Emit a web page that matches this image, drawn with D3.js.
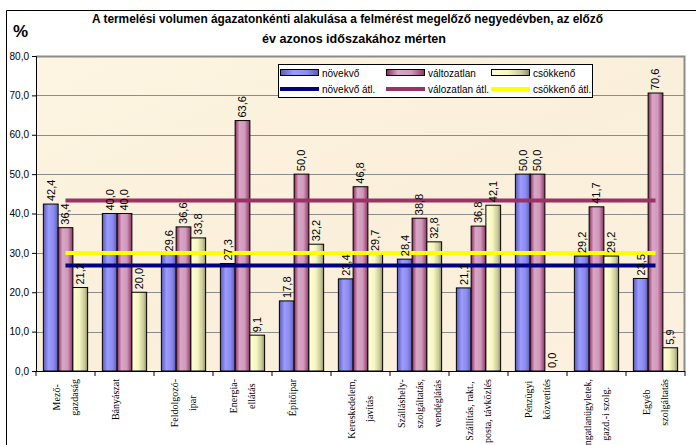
<!DOCTYPE html>
<html>
<head>
<meta charset="utf-8">
<script src="https://cdn.jsdelivr.net/npm/d3@7"></script>
<style>
  body { margin: 0; background: #fff; }
  svg { display: block; }
</style>
</head>
<body>
<svg id="chart"></svg>
<script>
const categories = [
  ["Mező-", "gazdaság"],
  ["Bányászat"],
  ["Feldolgozó-", "ipar"],
  ["Energia-", "ellátás"],
  ["Építőipar"],
  ["Kereskedelem,", "javítás"],
  ["Szálláshely-", "szolgáltatás,", "vendéglátás"],
  ["Szállítás, rakt.,", "posta, távközlés"],
  ["Pénzügyi", "közvetítés"],
  ["Ingatlanügyletek,", "gazd.-i szolg."],
  ["Egyéb", "szolgáltatás"]
];

const novekvo = [42.4, 40.0, 29.6, 27.3, 17.8, 23.4, 28.4, 21.1, 50.0, 29.2, 23.5];
const valtozatlan = [36.4, 40.0, 36.6, 63.6, 50.0, 46.8, 38.8, 36.8, 50.0, 41.7, 70.6];
const csokkeno = [21.2, 20.0, 33.8, 9.1, 32.2, 29.7, 32.8, 42.1, 0.0, 29.2, 5.9];

// average lines
const novekvoAtl = [26.8, 26.8, 26.8, 26.8, 26.8, 26.8, 26.8, 26.8, 26.8, 26.8, 26.8];
const valtozatlanAtl = [43.3, 43.3, 43.3, 43.3, 43.3, 43.3, 43.3, 43.3, 43.3, 43.3, 43.3];
const csokkenoAtl = [30.0, 30.0, 30.0, 30.0, 30.0, 30.0, 30.0, 30.0, 30.0, 30.0, 30.0];

const yTicks = [0, 10, 20, 30, 40, 50, 60, 70, 80];

const width = 696;
const height = 445;
const pLeft = 36, pRight = 685, pTop = 56, pBottom = 371;

const fmt = (v) => v.toFixed(1).replace(".", ",");

const svg = d3.select("#chart").attr("width", width).attr("height", height);

// gradients for the bars
const defs = svg.append("defs");
const addGrad = (id, stops) => {
  const g = defs.append("linearGradient").attr("id", id)
    .attr("x1", "0%").attr("x2", "100%").attr("y1", "0%").attr("y2", "0%");
  stops.forEach(([o, c]) => g.append("stop").attr("offset", o).attr("stop-color", c));
};
addGrad("gBlue", [["0%", "#5a5ab8"], ["35%", "#9c9cff"], ["70%", "#8a8af0"], ["100%", "#5c5cb0"]]);
addGrad("gPink", [["0%", "#8c2a5c"], ["30%", "#d9a6c6"], ["65%", "#cf9abb"], ["100%", "#8e3362"]]);
addGrad("gYellow", [["0%", "#ffffd8"], ["45%", "#f6f6c0"], ["80%", "#c8c89a"], ["100%", "#8e8e66"]]);
const plotBg = defs.append("linearGradient").attr("id", "gBg")
  .attr("x1", "0%").attr("x2", "100%").attr("y1", "0%").attr("y2", "100%");
plotBg.append("stop").attr("offset", "0%").attr("stop-color", "#fdf5e2");
plotBg.append("stop").attr("offset", "50%").attr("stop-color", "#faefda");
plotBg.append("stop").attr("offset", "100%").attr("stop-color", "#fbf1de");

// outer border
svg.append("path")
  .attr("d", `M6.5,${height} V10.5 H${width}`)
  .attr("fill", "none").attr("stroke", "#000").attr("stroke-width", 1);

// title
svg.append("text").text("%")
  .attr("x", 13).attr("y", 37)
  .attr("font-family", "Arial, 'Liberation Sans', sans-serif")
  .attr("font-weight", "bold").attr("font-size", 17);

svg.append("text")
  .text("A termelési volumen ágazatonkénti alakulása a felmérést megelőző negyedévben, az előző")
  .attr("x", 92).attr("y", 23)
  .attr("font-family", "Arial, 'Liberation Sans', sans-serif")
  .attr("font-weight", "bold").attr("font-size", 12)
  .attr("textLength", 511).attr("lengthAdjust", "spacingAndGlyphs");
svg.append("text")
  .text("év azonos időszakához mérten")
  .attr("x", 262).attr("y", 43)
  .attr("font-family", "Arial, 'Liberation Sans', sans-serif")
  .attr("font-weight", "bold").attr("font-size", 12)
  .attr("textLength", 184).attr("lengthAdjust", "spacingAndGlyphs");

// scales
const idx = d3.range(categories.length);
const x = d3.scaleBand().domain(idx).range([pLeft, pRight]).paddingInner(0).paddingOuter(0);
const y = d3.scaleLinear().domain([0, 80]).range([pBottom, pTop]);
const step = x.bandwidth();
const barW = step / 4;

// plot area
svg.append("rect")
  .attr("x", pLeft).attr("y", pTop)
  .attr("width", pRight - pLeft).attr("height", pBottom - pTop)
  .attr("fill", "url(#gBg)");

svg.append("g").selectAll("line")
  .data(yTicks.filter((t) => t > 0 && t < 80))
  .join("line")
  .attr("x1", pLeft).attr("x2", pRight)
  .attr("y1", (d) => Math.round(y(d)) + 0.5).attr("y2", (d) => Math.round(y(d)) + 0.5)
  .attr("stroke", "#8c8c8c").attr("stroke-width", 1);

svg.append("path")
  .attr("d", `M${pLeft},${pTop + 0.5} H${pRight - 0.5} V${pBottom}`)
  .attr("fill", "none").attr("stroke", "#8c8c8c").attr("stroke-width", 2);

// bars
const series = [
  { values: novekvo, fill: "url(#gBlue)" },
  { values: valtozatlan, fill: "url(#gPink)" },
  { values: csokkeno, fill: "url(#gYellow)" }
];

const barX = (i, s) => x(i) + step / 8 + s * barW;

series.forEach((s, si) => {
  svg.append("g").selectAll("rect")
    .data(s.values)
    .join("rect")
    .attr("x", (d, i) => barX(i, si))
    .attr("y", (d) => y(d))
    .attr("width", barW)
    .attr("height", (d) => y(0) - y(d))
    .attr("fill", s.fill)
    .attr("stroke", "#000").attr("stroke-width", 1);
});

// axes
const yAxis = d3.axisLeft(y).tickValues(yTicks).tickFormat(fmt).tickSize(4).tickPadding(3);
const gy = svg.append("g").attr("transform", `translate(${pLeft},0)`).call(yAxis);
gy.select(".domain").attr("stroke", "#000");
gy.selectAll("text")
  .attr("font-family", "Arial, 'Liberation Sans', sans-serif")
  .attr("font-size", 10).attr("fill", "#000");

svg.append("line")
  .attr("x1", pLeft).attr("x2", pRight)
  .attr("y1", pBottom + 0.5).attr("y2", pBottom + 0.5)
  .attr("stroke", "#000");
svg.append("g").selectAll("line")
  .data(d3.range(categories.length + 1))
  .join("line")
  .attr("x1", (d) => pLeft + d * step).attr("x2", (d) => pLeft + d * step)
  .attr("y1", pBottom).attr("y2", pBottom + 5)
  .attr("stroke", "#000");

// average lines
const avgLine = d3.line()
  .x((d, i) => x(i) + step / 2)
  .y((d) => y(d));
[
  { values: novekvoAtl, color: "#000080" },
  { values: valtozatlanAtl, color: "#993366" },
  { values: csokkenoAtl, color: "#ffff00" }
].forEach((l) => {
  svg.append("path")
    .attr("d", avgLine(l.values))
    .attr("fill", "none").attr("stroke", l.color).attr("stroke-width", 4);
});

// value labels
series.forEach((s, si) => {
  svg.append("g").selectAll("text")
    .data(s.values)
    .join("text")
    .attr("transform", (d, i) => `translate(${barX(i, si) + barW / 2},${y(d) - 3}) rotate(-90)`)
    .attr("dy", "0.35em")
    .attr("font-family", "Arial, 'Liberation Sans', sans-serif")
    .attr("font-size", 11)
    .attr("fill", "#000")
    .text(fmt);
});

// category labels
const catG = svg.append("g");
categories.forEach((lines, i) => {
  const n = Math.max(lines.length, 2);
  const cx = x(i) + step / 2;
  const spacing = 18;
  const texts = lines.map((t) => catG.append("text")
    .text(t)
    .attr("font-family", "'Liberation Serif', 'Times New Roman', serif")
    .attr("font-size", 10)
    .attr("text-anchor", "middle")
    .attr("dy", "0.35em"));
  const maxLen = d3.max(texts, (t) => t.node().getComputedTextLength());
  const yc = 379 + maxLen / 2;
  texts.forEach((t, li) => {
    const lx = cx + (li - (n - 1) / 2) * spacing;
    t.attr("transform", `translate(${lx},${yc}) rotate(-90)`);
  });
});

// legend
const lg = svg.append("g");
lg.append("rect")
  .attr("x", 278.5).attr("y", 64.5).attr("width", 314).attr("height", 33)
  .attr("fill", "#fff").attr("stroke", "#000");
const legendItems = [
  { label: "növekvő", type: "bar", fill: "url(#gBlue)", col: 0, row: 0 },
  { label: "változatlan", type: "bar", fill: "url(#gPink)", col: 1, row: 0 },
  { label: "csökkenő", type: "bar", fill: "url(#gYellow)", col: 2, row: 0 },
  { label: "növekvő átl.", type: "line", fill: "#000080", col: 0, row: 1 },
  { label: "válozatlan átl.", type: "line", fill: "#993366", col: 1, row: 1 },
  { label: "csökkenő átl.", type: "line", fill: "#ffff00", col: 2, row: 1 }
];
const colX = [280, 386, 491];
const rowY = [73, 89];
legendItems.forEach((it) => {
  const sx = colX[it.col], sy = rowY[it.row];
  if (it.type === "bar") {
    lg.append("rect")
      .attr("x", sx + 0.5).attr("y", sy - 3.5).attr("width", 38).attr("height", 6)
      .attr("fill", it.fill).attr("stroke", "#000");
  } else {
    lg.append("line")
      .attr("x1", sx).attr("x2", sx + 39).attr("y1", sy).attr("y2", sy)
      .attr("stroke", it.fill).attr("stroke-width", 4);
  }
  lg.append("text")
    .attr("x", sx + 42).attr("y", sy).attr("dy", "0.35em")
    .attr("font-family", "Arial, 'Liberation Sans', sans-serif")
    .attr("font-size", 10)
    .text(it.label);
});
</script>
</body>
</html>
